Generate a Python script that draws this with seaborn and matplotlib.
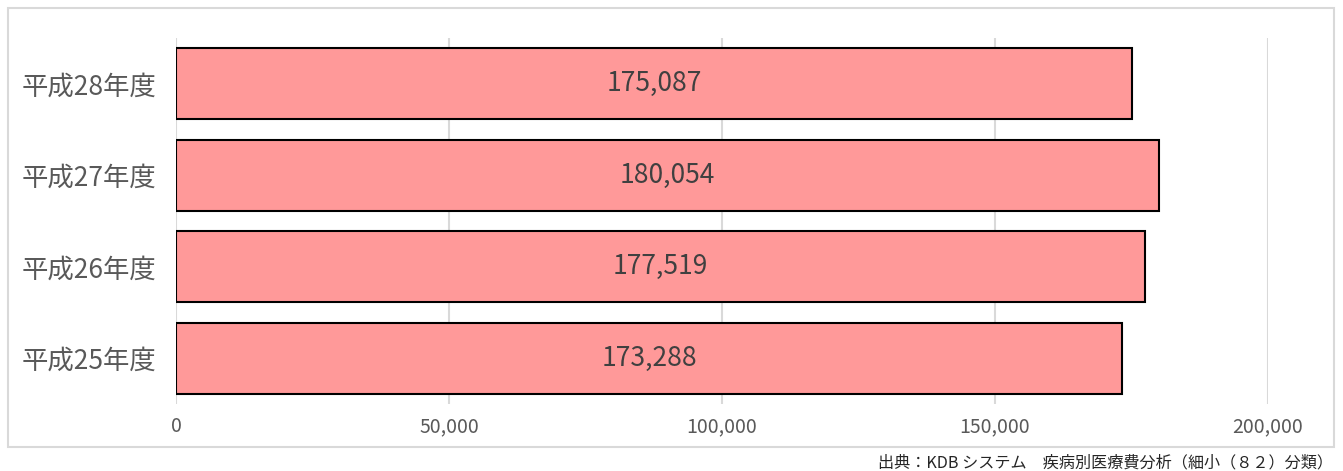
import matplotlib
matplotlib.use('Agg')
import matplotlib.pyplot as plt
import seaborn as sns
import pandas as pd
from matplotlib.patches import Rectangle
from matplotlib.ticker import FuncFormatter

# =========================
# Data
# =========================
years = ['平成28年度', '平成27年度', '平成26年度', '平成25年度']
costs = [175087, 180054, 177519, 173288]
xticks = [0, 50000, 100000, 150000, 200000]
source = '出典：KDB システム　疾病別医療費分析（細小（８２）分類）'

df = pd.DataFrame({'year': years, 'cost': costs})

sns.set_style('white')
plt.rcParams['font.family'] = ['Noto Sans CJK JP', 'DejaVu Sans']

fig = plt.figure(figsize=(13.43, 4.71), dpi=100)
ax = fig.add_axes([176 / 1343, 1 - 404 / 471, 1092 / 1343, 366 / 471])

sns.barplot(data=df, x='cost', y='year', orient='h', color='#FF9999',
            saturation=1, width=0.775, edgecolor='black', linewidth=1.5,
            ax=ax)

# labels in the middle of the bars
for p, v in zip(ax.patches, costs):
    ax.text(p.get_x() + p.get_width() / 2, p.get_y() + p.get_height() / 2,
            f'{v:,}', ha='center', va='center', fontsize=19, color='#404040')

ax.set_xlim(0, 200000)
ax.set_xticks(xticks)
ax.xaxis.set_major_formatter(FuncFormatter(lambda x, _: f'{int(x):,}'))
ax.grid(axis='x', color='#d9d9d9', linewidth=1.5)
ax.set_axisbelow(True)
for s in ax.spines.values():
    s.set_visible(False)
ax.tick_params(axis='x', labelsize=14, labelcolor='#595959', length=0, pad=9)
ax.tick_params(axis='y', labelsize=19, labelcolor='#595959', length=0, pad=14)
ax.set_xlabel('')
ax.set_ylabel('')

# outer frame
fig.patches.append(Rectangle((8 / 1343, 1 - 447 / 471), 1326 / 1343, 439 / 471,
                             transform=fig.transFigure, fill=False,
                             edgecolor='#d9d9d9', linewidth=1.5))

fig.text(1333 / 1343, 1 - 463 / 471, source, ha='right', va='center',
         fontsize=11.6, color='#262626')

plt.savefig('out.png', dpi=100)
